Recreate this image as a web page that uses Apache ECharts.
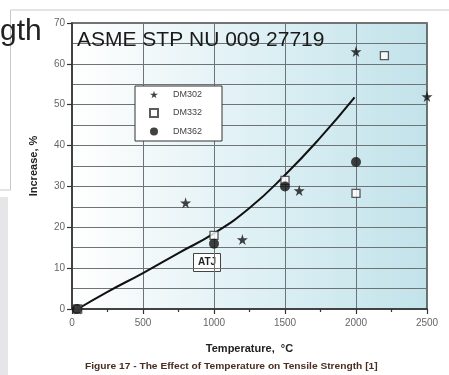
<!DOCTYPE html>
<html>
<head>
<meta charset="utf-8">
<script src="https://cdn.jsdelivr.net/npm/echarts@6/dist/echarts.min.js"></script>
<style>
html,body{margin:0;padding:0;background:#fff;}
#c{width:449px;height:375px;}
</style>
</head>
<body>
<div id="c"></div>
<script>
// ---- data ----
const xTicks = [0, 500, 1000, 1500, 2000, 2500];
const yTicks = [0, 10, 20, 30, 40, 50, 60, 70];
const dm302 = [[40, 0], [800, 26], [1200, 17], [1600, 29], [2000, 63], [2500, 52]];
const dm332 = [[40, 0], [1000, 18], [1500, 31.5], [2000, 28.3], [2200, 62]];
const dm362 = [[35, 0], [1000, 16], [1500, 30], [2000, 36]];
const atjCurve = [[40, 0], [250, 4.2], [500, 8.8], [750, 13.7], [1000, 18.5], [1250, 24.7], [1500, 32.8], [1750, 42], [1990, 51.8]];
const seriesNames = ['DM302', 'DM332', 'DM362'];

const STAR = 'path://M50,0 L61,35 L98,35 L68,57 L79,91 L50,70 L21,91 L32,57 L2,35 L39,35 Z';
const chart = echarts.init(document.getElementById('c'), null, {renderer: 'canvas'});
const gridColor = '#6e7476';
const font = '"Liberation Sans", Arial, sans-serif';

chart.setOption({
  animation: false,
  backgroundColor: '#ffffff',
  grid: {
    left: 72, right: 22, top: 23, bottom: 66,
    show: true,
    borderColor: '#4a4a4a', borderWidth: 1.5,
    backgroundColor: {
      type: 'linear', x: 0, y: 0, x2: 1, y2: 0,
      colorStops: [
        {offset: 0, color: '#ffffff'},
        {offset: 0.15, color: '#f6fafb'},
        {offset: 0.6, color: '#d9eef3'},
        {offset: 1, color: '#c2e2ea'}
      ]
    }
  },
  legend: {
    data: seriesNames,
    orient: 'vertical',
    left: 135, top: 86,
    backgroundColor: '#ffffff',
    borderColor: '#333', borderWidth: 1,
    padding: [4, 20, 5, 14],
    itemWidth: 8, itemHeight: 8, itemGap: 9,
    textStyle: {fontFamily: font, fontSize: 9, color: '#444', padding: [0, 0, 0, 10]}
  },
  xAxis: {
    type: 'value', min: xTicks[0], max: xTicks[xTicks.length - 1], interval: 500,
    axisLine: {show: true, lineStyle: {color: '#333', width: 1.5}},
    axisTick: {show: true, length: 5, lineStyle: {color: '#333', width: 1.2}},
    minorTick: {show: true, splitNumber: 2, length: 3, lineStyle: {color: '#333', width: 1.2}},
    axisLabel: {fontFamily: font, fontSize: 10, color: '#666', margin: 9, formatter: v => String(v)},
    splitLine: {show: true, lineStyle: {color: gridColor, width: 1}},
    name: 'Temperature,  \u00B0C', nameLocation: 'middle', nameGap: 34,
    nameTextStyle: {fontFamily: font, fontSize: 11, fontWeight: 'bold', color: '#222'}
  },
  yAxis: {
    type: 'value', min: yTicks[0], max: yTicks[yTicks.length - 1], interval: 10,
    axisLine: {show: true, lineStyle: {color: '#333', width: 1.5}},
    axisTick: {show: true, length: 5, lineStyle: {color: '#333', width: 1.2}},
    axisLabel: {fontFamily: font, fontSize: 10, color: '#666', margin: 7, formatter: v => String(v)},
    splitLine: {show: true, lineStyle: {color: gridColor, width: 1}},
    minorTick: {show: false, splitNumber: 2},
    minorSplitLine: {show: true, lineStyle: {color: gridColor, width: 1}},
    name: 'Increase, %', nameLocation: 'middle', nameGap: 33,
    nameTextStyle: {fontFamily: font, fontSize: 11, fontWeight: 'bold', color: '#222'}
  },
  series: [
    {
      name: 'ATJ', type: 'line', data: atjCurve, smooth: true, showSymbol: false,
      lineStyle: {color: '#111', width: 2}, z: 3
    },
    {
      name: seriesNames[0], type: 'scatter', data: dm302, symbol: STAR, symbolSize: 11,
      itemStyle: {color: '#111'}, clip: false, z: 5
    },
    {
      name: seriesNames[1], type: 'scatter', data: dm332, symbol: 'rect', symbolSize: 8,
      itemStyle: {color: '#ffffff', borderColor: '#333', borderWidth: 1.3}, clip: false, z: 5
    },
    {
      name: seriesNames[2], type: 'scatter', data: dm362, symbol: 'circle', symbolSize: 10,
      itemStyle: {color: '#111'}, clip: false, z: 6
    }
  ],
  graphic: [
    // slide frame pieces
    {type: 'polyline', shape: {points: [[449, 10], [10.5, 10], [10.5, 190], [0, 190]]},
     style: {stroke: '#c9c9c9', fill: null, lineWidth: 1}, z: -1},
    {type: 'rect', shape: {x: 0, y: 197, width: 8, height: 178}, style: {fill: '#e6e6e8'}, z: -1},
    {type: 'text', left: 0, top: 17,
     style: {text: 'gth', font: '30px "Liberation Sans", Arial, sans-serif', fill: '#222'}, z: 10},
    // title overlay
    {type: 'text', left: 77, top: 30,
     style: {text: 'ASME STP NU 009 27719', font: '21px "Liberation Sans", Arial, sans-serif', fill: '#1a1a1a'}, z: 10},
    // ATJ label box
    {type: 'group', left: 193, top: 253, z: 10, children: [
      {type: 'rect', shape: {x: 0, y: 0, width: 27, height: 18},
       style: {fill: '#ffffff', stroke: '#444', lineWidth: 1}},
      {type: 'text', x: 13.5, y: 9,
       style: {text: 'ATJ', font: 'bold 10px "Liberation Sans", Arial, sans-serif', fill: '#222',
               textAlign: 'center', textVerticalAlign: 'middle'}}
    ]},
    // caption
    {type: 'text', x: 85, y: 362, scaleX: 1.2, originX: 0,
     style: {text: 'Figure 17 - The Effect of Temperature on Tensile Strength [1]',
             font: 'bold 8.5px "Liberation Sans", Arial, sans-serif', fill: '#4a2e22'}, z: 10}
  ]
});
</script>
</body>
</html>
